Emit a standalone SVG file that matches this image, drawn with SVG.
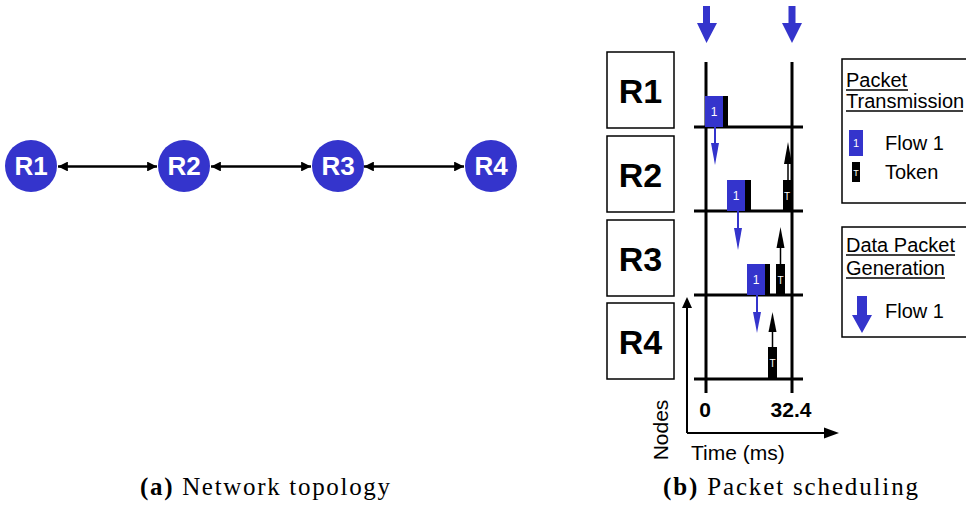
<svg xmlns="http://www.w3.org/2000/svg" width="966" height="509" viewBox="0 0 966 509">
  <style>
    .node circle { fill: #3434cc; }
    .node text { fill: #ffffff; font-family: "Liberation Sans", Arial, sans-serif; font-weight: bold; font-size: 26px; text-anchor: middle; }
    .link { stroke: #000; stroke-width: 2.6; fill: none; }
    .rbox rect { fill: #fff; stroke: #000; stroke-width: 1.5; }
    .rbox text { font-family: "Liberation Sans", Arial, sans-serif; font-weight: bold; font-size: 34px; text-anchor: middle; }
    .grid { stroke: #000; stroke-width: 3; }
    .axis { stroke: #000; stroke-width: 2; fill: none; }
    .blue { fill: #3434cc; }
    .blk { fill: #000; }
    .flowline { stroke: #3434cc; stroke-width: 2; }
    .tokline { stroke: #000; stroke-width: 1.5; }
    .pk { fill: #fff; font-family: "Liberation Sans", Arial, sans-serif; font-size: 12px; text-anchor: middle; }
    .tk { fill: #fff; font-family: "Liberation Sans", Arial, sans-serif; font-size: 10px; text-anchor: middle; }
    .lbl { font-family: "Liberation Sans", Arial, sans-serif; font-size: 20px; fill: #000; }
    .tick { font-family: "Liberation Sans", Arial, sans-serif; font-size: 21px; font-weight: bold; text-anchor: middle; }
    .cap { font-family: "Liberation Serif", "Times New Roman", serif; font-size: 25px; fill: #000; }
    .legend rect.frame { fill: #fff; stroke: #000; stroke-width: 1.5; }
    .uline { stroke: #000; stroke-width: 1.3; }
  </style>
  <defs>
    <marker id="ah" viewBox="0 0 10 10" refX="10" refY="5" markerWidth="4.8" markerHeight="3.8" orient="auto-start-reverse" markerUnits="strokeWidth">
      <path d="M0,0 L10,5 L0,10 z" fill="#000"/>
    </marker>
  </defs>

  <!-- (a) topology: links -->
  <g id="connectors">
    <line class="link" x1="58" y1="166.5" x2="157" y2="166.5" marker-start="url(#ah)" marker-end="url(#ah)"/>
    <line class="link" x1="211" y1="166.5" x2="311" y2="166.5" marker-start="url(#ah)" marker-end="url(#ah)"/>
    <line class="link" x1="364" y1="166.5" x2="464" y2="166.5" marker-start="url(#ah)" marker-end="url(#ah)"/>
  </g>
  <g id="node-r1" class="node"><circle cx="31" cy="166" r="26"/><text x="31" y="175">R1</text></g>
  <g id="node-r2" class="node"><circle cx="184" cy="166" r="26"/><text x="184" y="175">R2</text></g>
  <g id="node-r3" class="node"><circle cx="338" cy="166" r="26"/><text x="338" y="175">R3</text></g>
  <g id="node-r4" class="node"><circle cx="491" cy="166" r="26"/><text x="491" y="175">R4</text></g>

  <!-- (b) scheduling: router boxes -->
  <g id="box-r1" class="rbox"><rect x="607" y="52" width="67" height="76"/><text x="640.5" y="103">R1</text></g>
  <g id="box-r2" class="rbox"><rect x="607" y="136" width="67" height="76"/><text x="640.5" y="187">R2</text></g>
  <g id="box-r3" class="rbox"><rect x="607" y="220" width="67" height="76"/><text x="640.5" y="271">R3</text></g>
  <g id="box-r4" class="rbox"><rect x="607" y="303" width="67" height="76"/><text x="640.5" y="354">R4</text></g>

  <!-- timeline grid -->
  <g id="timeline">
    <line class="grid" x1="706" y1="62" x2="706" y2="393"/>
    <line class="grid" x1="792" y1="62" x2="792" y2="393"/>
    <line class="grid" x1="694" y1="127" x2="803" y2="127"/>
    <line class="grid" x1="694" y1="211" x2="803" y2="211"/>
    <line class="grid" x1="694" y1="295" x2="803" y2="295"/>
    <line class="grid" x1="694" y1="379" x2="803" y2="379"/>
  </g>

  <!-- data packet generation arrows -->
  <g id="gen-arrows">
    <path class="blue" d="M703,6 H710 V23 H717 L706.5,43 L697,23 H703 z"/>
    <path class="blue" d="M788.5,6 H795.5 V23 H802 L792,43 L782,23 H788.5 z"/>
  </g>

  <!-- packets and tokens -->
  <g id="packets">
    <rect class="blue" x="705" y="96" width="18" height="31"/>
    <rect class="blk" x="723" y="96" width="5" height="31"/>
    <text class="pk" x="714" y="116">1</text>

    <rect class="blue" x="727" y="180" width="18" height="31"/>
    <rect class="blk" x="745" y="180" width="6" height="31"/>
    <text class="pk" x="736" y="200">1</text>

    <rect class="blue" x="747" y="264" width="18" height="31"/>
    <rect class="blk" x="765" y="264" width="5" height="31"/>
    <text class="pk" x="756" y="284">1</text>

    <rect class="blk" x="783" y="180" width="8" height="31"/>
    <text class="tk" x="787" y="200">T</text>
    <rect class="blk" x="776" y="264" width="9" height="31"/>
    <text class="tk" x="780.5" y="284">T</text>
    <rect class="blk" x="768" y="347" width="9" height="32"/>
    <text class="tk" x="772.5" y="367">T</text>
  </g>

  <!-- forwarding and token arrows -->
  <g id="hop-arrows">
    <line class="flowline" x1="715" y1="127" x2="715" y2="146"/>
    <path class="blue" d="M711,143 H719 L715,165 z"/>
    <line class="flowline" x1="738" y1="211" x2="738" y2="230"/>
    <path class="blue" d="M734,228 H742 L738,250 z"/>
    <line class="flowline" x1="757" y1="295" x2="757" y2="314"/>
    <path class="blue" d="M753,312 H761 L757,333 z"/>

    <line class="tokline" x1="788" y1="180" x2="788" y2="160"/>
    <path class="blk" d="M784,164 H792 L788,142 z"/>
    <line class="tokline" x1="780.5" y1="264" x2="780.5" y2="245"/>
    <path class="blk" d="M776.5,248 H784.5 L780.5,227 z"/>
    <line class="tokline" x1="772.5" y1="347" x2="772.5" y2="328"/>
    <path class="blk" d="M768.5,332 H776.5 L772.5,312 z"/>
  </g>

  <!-- axes -->
  <g id="axes">
    <path class="axis" d="M687,433 V305"/>
    <path class="blk" d="M682,308 L687,297 L692,308 z"/>
    <path class="axis" d="M687,433 H826"/>
    <path class="blk" d="M824,427.5 L839,433 L824,438.5 z"/>
    <text class="tick" x="705" y="417">0</text>
    <text class="tick" x="791" y="417">32.4</text>
    <text class="lbl" x="691" y="460" style="font-size:21px">Time (ms)</text>
    <text class="lbl" x="668" y="430" transform="rotate(-90 668 430)" text-anchor="middle" style="font-size:21px">Nodes</text>
  </g>

  <!-- legends -->
  <g id="legend-transmission" class="legend">
    <rect class="frame" x="842" y="59" width="130" height="144"/>
    <text class="lbl" x="846" y="87">Packet</text>
    <line class="uline" x1="846" y1="90" x2="908" y2="90"/>
    <text class="lbl" x="846" y="108">Transmission</text>
    <line class="uline" x1="846" y1="111" x2="963" y2="111"/>
    <rect class="blue" x="849" y="130" width="14" height="26"/>
    <text class="pk" x="856" y="147" style="font-size:11px">1</text>
    <text class="lbl" x="885" y="150">Flow 1</text>
    <rect class="blk" x="852" y="162" width="8" height="20"/>
    <text class="tk" x="856" y="176" style="font-size:9px">T</text>
    <text class="lbl" x="885" y="179">Token</text>
  </g>
  <g id="legend-generation" class="legend">
    <rect class="frame" x="842" y="227" width="130" height="110"/>
    <text class="lbl" x="846" y="252">Data Packet</text>
    <line class="uline" x1="846" y1="255" x2="955" y2="255"/>
    <text class="lbl" x="846" y="275">Generation</text>
    <line class="uline" x1="846" y1="278" x2="945" y2="278"/>
    <path class="blue" d="M857,296 H867 V315 H872 L862,333 L852,315 H857 z"/>
    <text class="lbl" x="885" y="318">Flow 1</text>
  </g>

  <!-- captions -->
  <text class="cap" x="140" y="495" textLength="250" lengthAdjust="spacing"><tspan font-weight="bold">(a)</tspan> Network topology</text>
  <text class="cap" x="663" y="495" textLength="255" lengthAdjust="spacing"><tspan font-weight="bold">(b)</tspan> Packet scheduling</text>
</svg>
